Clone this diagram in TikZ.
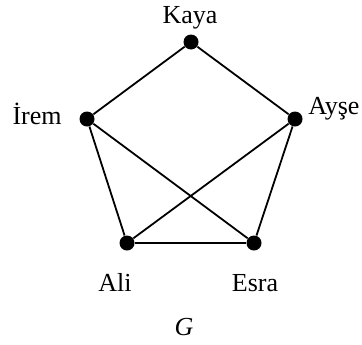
\documentclass[tikz,border=0pt]{standalone}
\usepackage{fontspec}
\setmainfont{Liberation Serif}
\usetikzlibrary{positioning}

\tikzset{
  vertex/.style={circle,fill=black,inner sep=0pt,minimum size=7.5pt},
  vlabel/.style={inner sep=0pt,font=\fontsize{13}{15}\selectfont},
  edge/.style={line width=0.9pt}
}

\begin{document}
\begin{tikzpicture}[x=0.5pt,y=0.5pt]
\useasboundingbox (0,0) rectangle (362,344);
% vertices
\node[vertex] (kaya) at (191,302) {};
\node[vertex] (irem) at (87,225) {};
\node[vertex] (ayse) at (295,225) {};
\node[vertex] (ali)  at (127,101) {};
\node[vertex] (esra) at (254,101) {};
% names
\node[vlabel,anchor=base]      (kayaname) at (190,321) {Kaya};
\node[vlabel,anchor=base east] (iremname) at (62,220)  {İrem};
\node[vlabel,anchor=base west] (aysename) at (308,230) {Ayşe};
\node[vlabel,anchor=base]      (aliname)  at (115,53)  {Ali};
\node[vlabel,anchor=base]      (esraname) at (255,53)  {Esra};
\node[vlabel,anchor=base]      (gname)    at (184,9)   {\textit{G}};
% edges
\draw[edge] (kaya) -- (irem);
\draw[edge] (kaya) -- (ayse);
\draw[edge] (irem) -- (ali);
\draw[edge] (irem) -- (esra);
\draw[edge] (ayse) -- (ali);
\draw[edge] (ayse) -- (esra);
\draw[edge] (ali) -- (esra);
\end{tikzpicture}
\end{document}
